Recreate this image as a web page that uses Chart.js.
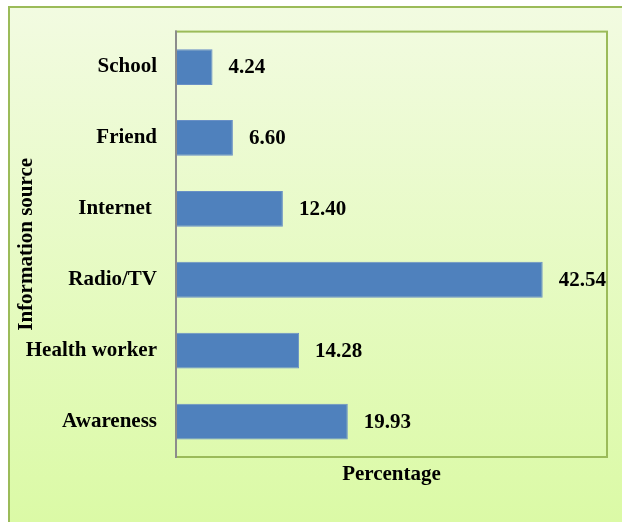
<!DOCTYPE html>
<html>
<head>
<meta charset="utf-8">
<script src="https://cdn.jsdelivr.net/npm/chart.js@4"></script>
<style>
html,body{margin:0;padding:0;background:#fff;}
#wrap{position:relative;width:622px;height:522px;}
</style>
</head>
<body>
<div id="wrap"><canvas id="c" width="622" height="522"></canvas></div>
<script>
const categories = ["School", "Friend", "Internet ", "Radio/TV", "Health worker", "Awareness"];
const percentages = [4.24, 6.60, 12.40, 42.54, 14.28, 19.93];
const xAxisTitle = "Percentage";
const yAxisTitle = "Information source";

const FONT = "'Liberation Serif', 'Times New Roman', serif";
const FSIZE = 21;

const bgPlugin = {
  id: 'bg',
  beforeDraw(chart) {
    const ctx = chart.ctx;
    ctx.save();
    ctx.fillStyle = '#ffffff';
    ctx.fillRect(0, 0, chart.width, chart.height);
    const g = ctx.createLinearGradient(0, 7, 0, 522);
    g.addColorStop(0, '#F2FBE1');
    g.addColorStop(1, '#DBFAA6');
    ctx.fillStyle = g;
    ctx.fillRect(8, 7, chart.width, chart.height);
    ctx.strokeStyle = '#9BBB59';
    ctx.lineWidth = 2;
    ctx.beginPath();
    ctx.moveTo(9, chart.height + 5);
    ctx.lineTo(9, 7);
    ctx.lineTo(chart.width + 5, 7);
    ctx.stroke();
    ctx.restore();
  },
  beforeDatasetsDraw(chart) {
    const {ctx, chartArea: a} = chart;
    ctx.save();
    ctx.strokeStyle = '#9BBB59';
    ctx.lineWidth = 2;
    ctx.strokeRect(a.left, a.top, a.right - a.left, a.bottom - a.top);
    ctx.restore();
  },
  afterDatasetsDraw(chart) {
    const {ctx, chartArea: a} = chart;
    ctx.save();
    ctx.strokeStyle = '#8C8C8C';
    ctx.lineWidth = 2;
    ctx.beginPath();
    ctx.moveTo(a.left, a.top - 1);
    ctx.lineTo(a.left, a.bottom + 1);
    ctx.stroke();
    // value labels
    const meta = chart.getDatasetMeta(0);
    ctx.fillStyle = '#000';
    ctx.font = 'bold ' + FSIZE + 'px ' + FONT;
    ctx.textAlign = 'left';
    ctx.textBaseline = 'middle';
    meta.data.forEach((bar, i) => {
      const v = chart.data.datasets[0].data[i];
      ctx.fillText(v.toFixed(2), bar.x + 16, bar.y + 1);
    });
    ctx.restore();
  }
};

new Chart(document.getElementById('c'), {
  type: 'bar',
  data: {
    labels: categories,
    datasets: [{
      data: percentages,
      backgroundColor: '#4F81BD',
      borderColor: '#6990C6',
      borderWidth: 1,
      barPercentage: 0.505,
      categoryPercentage: 1
    }]
  },
  options: {
    indexAxis: 'y',
    responsive: false,
    animation: false,
    devicePixelRatio: 1,
    layout: { padding: { left: 0, top: 29, right: 15, bottom: 0 } },
    plugins: { legend: { display: false }, tooltip: { enabled: false } },
    scales: {
      x: {
        min: 0, max: 50,
        grid: { display: false, drawTicks: false },
        border: { display: false },
        ticks: { display: false },
        title: {
          display: true, text: xAxisTitle, color: '#000',
          font: { family: FONT, size: FSIZE, weight: 'bold' },
          padding: { top: 0, bottom: 35 }
        },
        afterFit(s) { s.height = 65; }
      },
      y: {
        grid: { display: false, drawTicks: false },
        border: { display: false },
        ticks: {
          color: '#000', padding: 19,
          font: { family: FONT, size: FSIZE, weight: 'bold' }
        },
        title: {
          display: true, text: yAxisTitle, color: '#000',
          font: { family: FONT, size: FSIZE, weight: 'bold' },
          padding: { top: 14, bottom: 0 }
        },
        afterFit(s) { s.width = 176; }
      }
    }
  },
  plugins: [bgPlugin]
});
</script>
</body>
</html>
